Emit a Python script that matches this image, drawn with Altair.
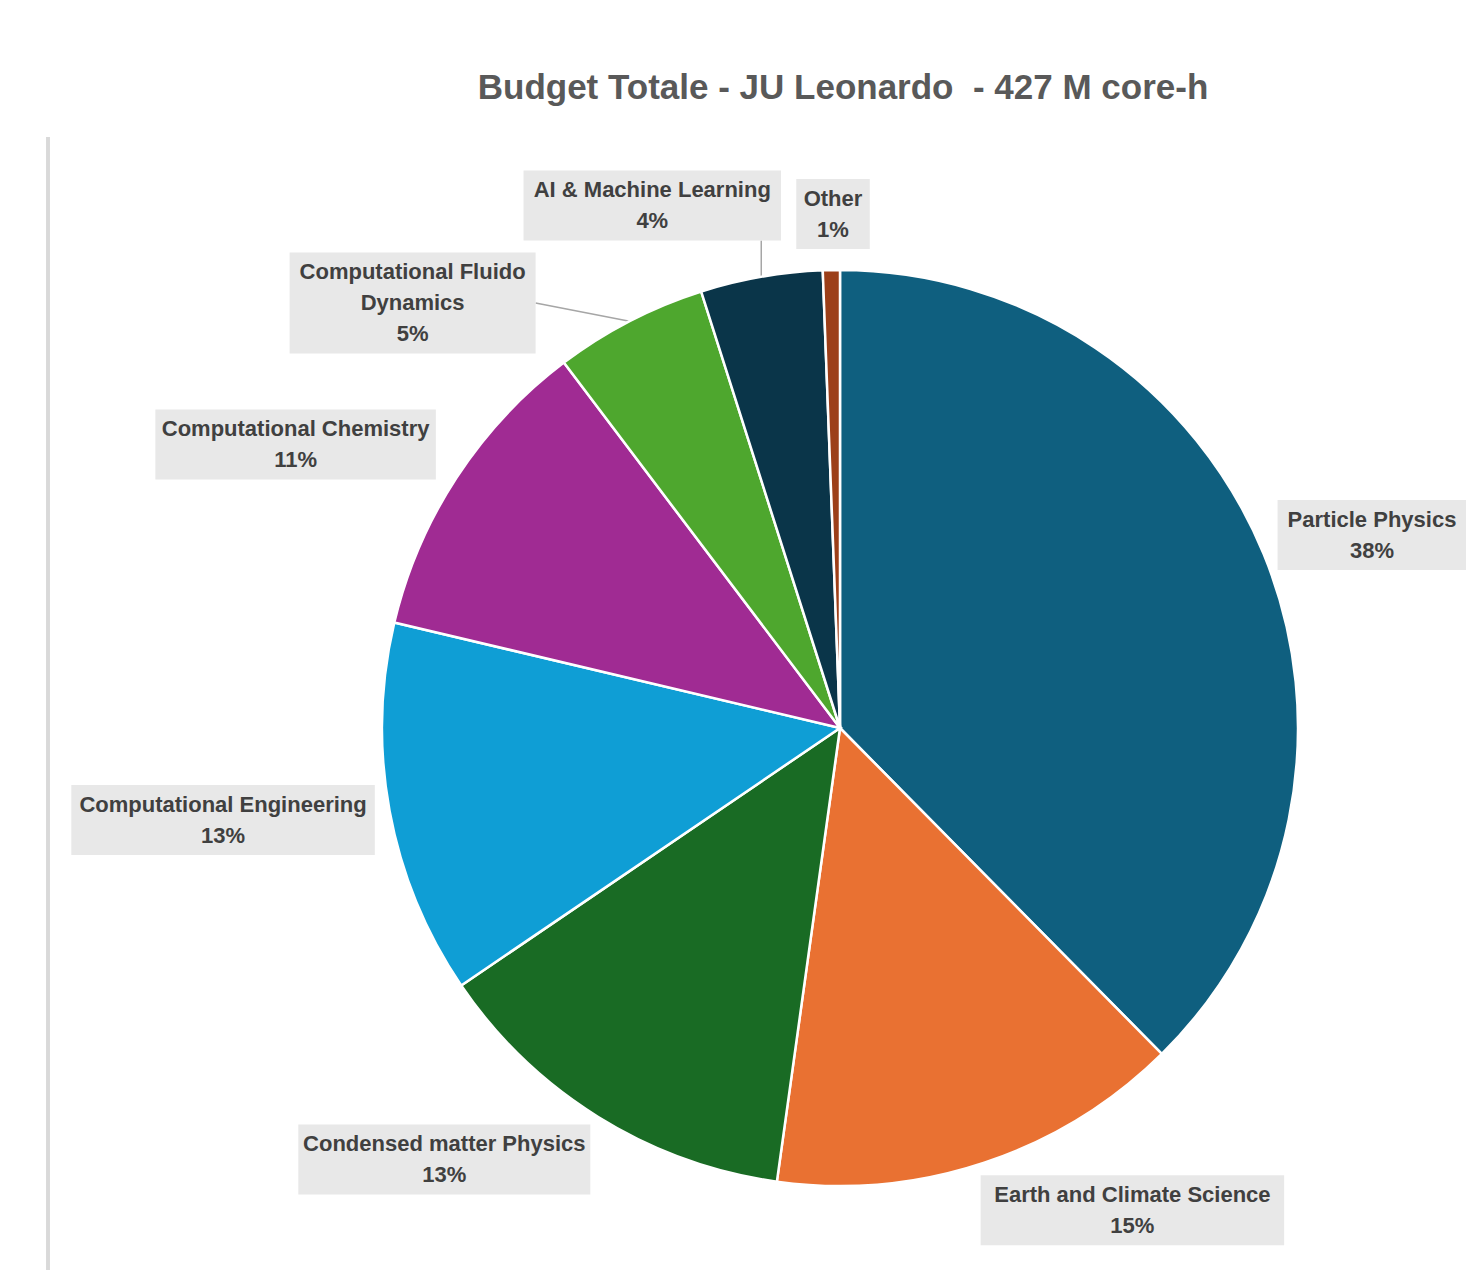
import math
import numpy as np
import pandas as pd
import altair as alt

# ---------------- data ----------------
categories = [
    "Particle Physics",
    "Earth and Climate Science",
    "Condensed matter Physics",
    "Computational Engineering",
    "Computational Chemistry",
    "Computational Fluido Dynamics",
    "AI & Machine Learning",
    "Other",
]
label_names = [
    "Particle Physics",
    "Earth and Climate Science",
    "Condensed matter Physics",
    "Computational Engineering",
    "Computational Chemistry",
    "Computational Fluido\nDynamics",
    "AI & Machine Learning",
    "Other",
]
shares = [37.6, 14.6, 13.3, 13.2, 11.0, 5.4, 4.3, 0.6]
colors = ["#0F5F7F", "#E97132", "#196B24", "#0F9ED5", "#A02B93", "#4EA72E", "#0A3549", "#9C3F19"]
title_text = "Budget Totale - JU Leonardo \u00a0- 427 M core-h"

# ---------------- layout ----------------
PAGE_W, PAGE_H = 1466, 1270
PAD_TOP = 70
TOP = 137                      # page y of plot area top (title band above)
CX_PAGE, CY_PAGE = 840, 728    # pie centre on page
R = 458                        # pie radius px
GAP = 15                       # label gap px
CHAR_W = 11.5
LINE_H = 31
PLOT_W = PAGE_W
PLOT_H = PAGE_H - TOP
CYP = CY_PAGE - TOP
RIGHT_EDGE = PAGE_W - CX_PAGE
# manual nudges (px, y up) for labels Excel moved and attached leader lines to
nudges = {"Computational Fluido Dynamics": (-87, -40), "AI & Machine Learning": (-40, 22),
          "Other": (4, 6), "Computational Chemistry": (-8, 6)}

total = sum(shares)
rows = []
cum = 0.0
for i, (cat, name, s) in enumerate(zip(categories, label_names, shares)):
    frac = s / total
    mid = (cum + frac / 2) * 2 * math.pi
    cum += frac
    ax, ay = math.sin(mid), math.cos(mid)
    pct = int(math.floor(frac * 100 + 0.5))
    lines = name.split("\n") + [f"{pct}%"]
    w = max(len(l) for l in lines) * CHAR_W + 16
    h = len(lines) * LINE_H + 8
    px, py = ax * (R + GAP), ay * (R + GAP)
    cx = px + w / 2 * max(-1.0, min(1.0, 3 * ax))
    cy = py + h / 2 * ay
    ndx, ndy = nudges.get(cat, (0, 0))
    cx += ndx
    cy += ndy
    x1, x2, y1, y2 = cx - w / 2, cx + w / 2, cy - h / 2, cy + h / 2
    if x2 > RIGHT_EDGE:          # box clipped at the page edge as in the original
        x2 = RIGHT_EDGE
        cx = min(cx, RIGHT_EDGE - max(len(l) for l in lines) * CHAR_W / 2 - 2)
    ty = cy + (len(lines) - 1) * LINE_H / 2
    # leader line: from arc point at mid angle to the box (only for labels moved away)
    arx, ary = ax * R, ay * R
    nx = min(max(arx, x1), x2)
    nyc = min(max(ary, y1), y2)
    dist = math.hypot(arx - nx, ary - nyc)
    ny = nyc if x1 <= arx <= x2 else cy
    rows.append(dict(idx=i, category=cat, share=s, label="\n".join(lines),
                     cx=cx, ty=ty, x1=x1, x2=x2, y1=y1, y2=y2,
                     lx1=arx, ly1=ary, lx2=nx, ly2=ny, leader=dist > 25))
df = pd.DataFrame(rows)
lead = df[df["leader"]]

xscale = alt.Scale(domain=[-CX_PAGE, PAGE_W - CX_PAGE], nice=False, zero=False)
yscale = alt.Scale(domain=[-(PLOT_H - CYP), CYP], nice=False, zero=False)

base = alt.Chart(df)

pie = base.mark_arc(radius=R, stroke="white", strokeWidth=2.5).encode(
    theta=alt.Theta("share:Q", stack=True),
    order=alt.Order("idx:Q"),
    color=alt.Color("category:N", scale=alt.Scale(domain=categories, range=colors), legend=None),
    x=alt.X(datum=0, type="quantitative", scale=xscale, axis=None),
    y=alt.Y(datum=0, type="quantitative", scale=yscale, axis=None),
)

boxes = base.mark_rect(fill="#E8E8E8").encode(
    x=alt.X("x1:Q", scale=xscale, axis=None), x2="x2:Q",
    y=alt.Y("y1:Q", scale=yscale, axis=None), y2="y2:Q",
)

texts = base.mark_text(font="Liberation Sans", fontSize=22, fontWeight="bold",
                       lineHeight=LINE_H, lineBreak="\n",
                       color="#404040", align="center", baseline="middle").encode(
    x=alt.X("cx:Q", scale=xscale, axis=None),
    y=alt.Y("ty:Q", scale=yscale, axis=None),
    text="label:N",
)

leaders = alt.Chart(lead).mark_rule(color="#A6A6A6", strokeWidth=1.5).encode(
    x=alt.X("lx1:Q", scale=xscale, axis=None), x2="lx2:Q",
    y=alt.Y("ly1:Q", scale=yscale, axis=None), y2="ly2:Q",
)

border = alt.Chart(df).mark_rule(color="#D9D9D9", strokeWidth=3).encode(
    x=alt.value(48), y=alt.value(0), y2=alt.value(PLOT_H)
)

chart = alt.layer(border, leaders, pie, boxes, texts).properties(
    width=PLOT_W, height=PLOT_H,
    padding={"left": 0, "right": 0, "top": PAD_TOP, "bottom": 0},
    title=alt.Title(title_text, font="Liberation Sans", fontSize=35, fontWeight="bold",
                    color="#595959", anchor="middle", dx=110, offset=30),
).configure_view(stroke=None)

chart.save("out.html", embed_options={"renderer": "svg", "actions": False})
